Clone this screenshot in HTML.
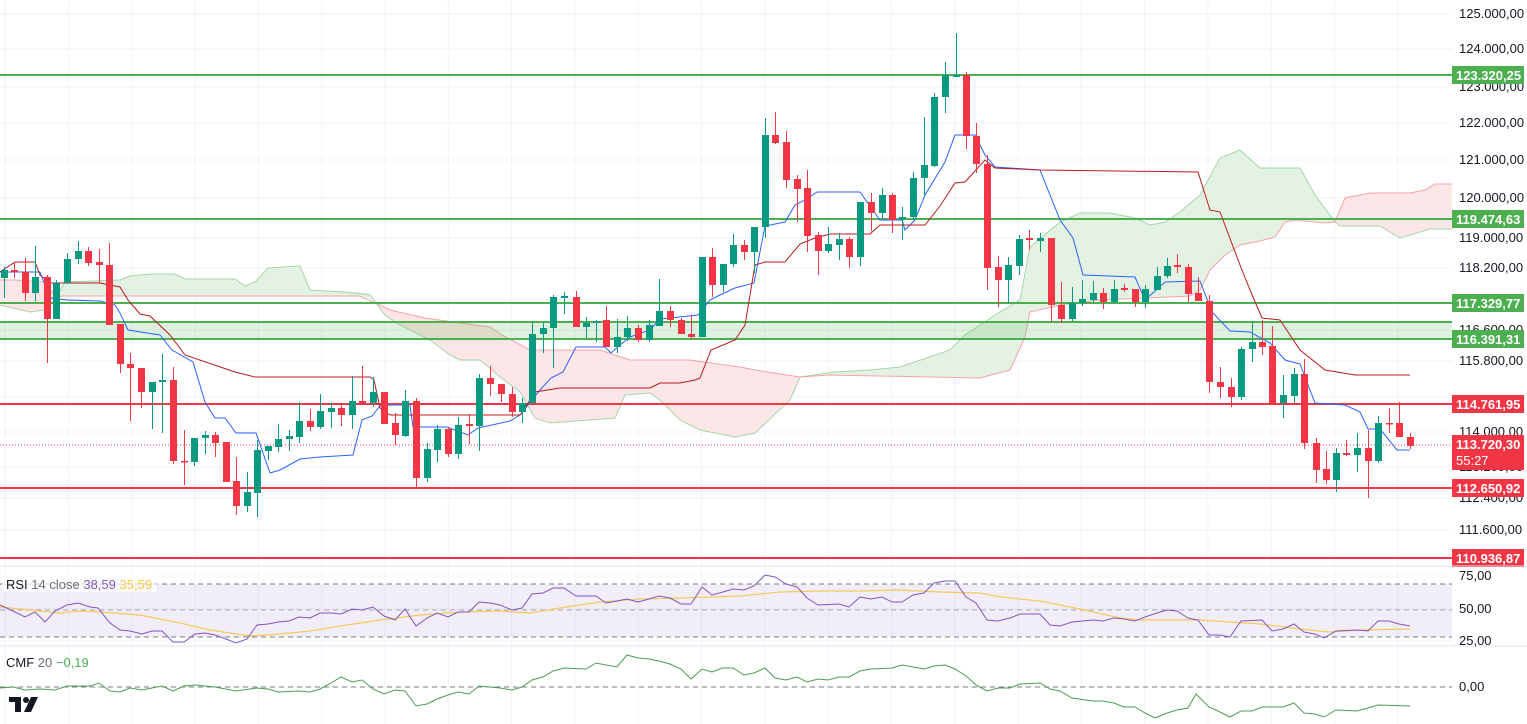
<!DOCTYPE html>
<html><head><meta charset="utf-8"><style>
html,body{margin:0;padding:0;background:#fff;}
svg{display:block;font-family:"Liberation Sans",sans-serif;}
</style></head><body>
<svg id="c" width="1527" height="724" viewBox="0 0 1527 724" xmlns="http://www.w3.org/2000/svg">
<rect width="1527" height="724" fill="#fff"/>
<g id="grid" stroke="#f0f3fa" stroke-width="1"></g>
<polygon fill="#fde6e7" points="0,280 15,280 45,282 55,296 55,300 45,310 30,312 0,305"/>
<polygon fill="#e4f2e4" points="55,296 65,282 120,280 130,276 150,274 175,274 185,279 235,279 245,286 255,282 268,268 300,266 310,290 345,292 370,293 370,298 360,296 65,296 55,300"/>
<polygon fill="#fde6e7" points="370,298 380,305 390,310 425,318 460,323 490,327 502,335 530,350 600,350 630,360 690,360 740,367 755,370 800,377 790,400 755,433 735,437 700,430 680,420 660,400 650,393 625,395 615,418 550,423 535,418 520,392 500,377 480,360 460,360 450,355 430,340 400,325 385,315 370,295"/>
<polygon fill="#e4f2e4" points="800,377 835,372 870,370 900,367 950,350 965,335 995,315 1020,300 1030,247 1060,222 1080,213 1110,213 1135,218 1150,225 1165,222 1180,212 1200,195 1220,158 1240,150 1260,168 1300,168 1315,195 1335,222 1325,223 1295,220 1285,222 1275,237 1260,241 1240,245 1225,255 1210,270 1200,290 1190,296 1100,300 1060,305 1030,312 1025,337 1010,370 980,378 830,375"/>
<polygon fill="#fde6e7" points="1335,222 1345,198 1370,193 1410,193 1425,190 1435,184 1452,184 1452,229 1430,229 1400,238 1380,226 1340,226"/>
<polyline fill="none" stroke="#a5d6a7" stroke-width="1" points="0,305 30,312 45,310 55,300 65,282 120,280 130,276 150,274 175,274 185,279 235,279 245,286 255,282 268,268 300,266 310,290 345,292 370,295 385,315 400,325 430,340 450,355 460,360 480,360 500,377 520,392 535,418 550,423 615,418 625,395 650,393 660,400 680,420 700,430 735,437 755,433 790,400 800,377 835,372 870,370 900,367 950,350 965,335 995,315 1020,300 1030,247 1060,222 1080,213 1110,213 1135,218 1150,225 1165,222 1180,212 1200,195 1220,158 1240,150 1260,168 1300,168 1315,195 1335,222 1340,226 1380,226 1400,238 1430,229 1452,229"/>
<polyline fill="none" stroke="#f5a3a6" stroke-width="1" points="0,280 15,280 45,282 55,296 65,296 360,296 380,305 390,310 425,318 460,323 490,327 502,335 530,350 600,350 630,360 690,360 740,367 755,370 800,377 830,375 980,378 1010,370 1025,337 1030,312 1060,305 1100,300 1190,296 1200,290 1210,270 1225,255 1240,245 1260,241 1275,237 1285,222 1295,220 1325,223 1335,222 1345,198 1370,193 1410,193 1425,190 1435,184 1452,184"/>
<rect x="0" y="322" width="1452" height="17" fill="#4caf50" fill-opacity="0.18"/>
<g stroke-width="2">
<line x1="0" y1="75" x2="1452" y2="75" stroke="#4caf50"/>
<line x1="0" y1="219" x2="1452" y2="219" stroke="#4caf50"/>
<line x1="0" y1="303" x2="1452" y2="303" stroke="#4caf50"/>
<line x1="0" y1="322" x2="1452" y2="322" stroke="#4caf50"/>
<line x1="0" y1="339" x2="1452" y2="339" stroke="#4caf50"/>
<line x1="0" y1="404" x2="1452" y2="404" stroke="#f23645"/>
<line x1="0" y1="488" x2="1452" y2="488" stroke="#f23645"/>
<line x1="0" y1="558" x2="1452" y2="558" stroke="#f23645"/>
</g>
<line x1="0" y1="445" x2="1452" y2="445" stroke="#f23645" stroke-width="1" stroke-dasharray="1,2"/>
<polyline fill="none" stroke="#2962ff" stroke-width="1" points="0,272 40,272 50,298 67,300 100,301 115,305 120,313 128,330 160,335 172,350 193,362 205,402 215,418 225,418 236,433 256,433 270,473 280,470 300,459 320,457 353,455 362,420 372,416 380,406 386,405 410,405 413,427 447,427 468,435 478,428 510,421 520,415 540,390 551,378 563,372 576,347 605,347 611,353 620,345 630,337 650,330 660,319 698,315 710,300 720,295 735,288 754,283 765,226 785,222 795,205 805,200 817,192 860,192 880,220 902,220 905,230 915,220 925,195 945,162 955,135 975,135 985,155 995,167 1040,170 1060,220 1073,238 1083,275 1135,277 1145,300 1165,282 1200,281 1212,312 1230,331 1250,332 1270,343 1285,360 1300,364 1315,403 1345,405 1360,412 1368,429 1380,429 1397,450 1410,450"/>
<polyline fill="none" stroke="#b71c1c" stroke-width="1" points="0,272 15,262 35,262 40,275 50,283 100,283 120,287 128,300 140,314 150,316 170,335 185,355 235,372 255,377 370,377 374,380 380,408 390,415 520,415 525,408 535,392 560,388 650,388 660,383 680,383 695,380 700,378 711,350 735,340 745,325 755,265 765,262 785,262 800,244 815,238 830,234 870,234 880,225 925,225 940,206 955,183 965,182 985,160 995,168 1040,170 1198,172 1210,210 1220,212 1240,265 1250,290 1262,318 1280,320 1300,350 1325,370 1355,375 1410,375"/>
<g id="candles"></g>
<g font-size="13" fill="#131722">
<text x="1459" y="18">125.000,00</text>
<text x="1459" y="53">124.000,00</text>
<text x="1459" y="91">123.000,00</text>
<text x="1459" y="127">122.000,00</text>
<text x="1459" y="164">121.000,00</text>
<text x="1459" y="202">120.000,00</text>
<text x="1459" y="242">119.000,00</text>
<text x="1459" y="272">118.200,00</text>
<text x="1459" y="334">116.600,00</text>
<text x="1459" y="365">115.800,00</text>
<text x="1459" y="436">114.000,00</text>
<text x="1459" y="471">113.200,00</text>
<text x="1459" y="502">112.400,00</text>
<text x="1459" y="534">111.600,00</text>
</g>
<g font-size="13" font-weight="bold" fill="#fff">
<rect x="1452" y="66" width="72" height="18" fill="#4caf50"/><text x="1456" y="80">123.320,25</text>
<rect x="1452" y="210" width="72" height="18" fill="#4caf50"/><text x="1456" y="224">119.474,63</text>
<rect x="1452" y="294" width="72" height="18" fill="#4caf50"/><text x="1456" y="308">117.329,77</text>
<rect x="1452" y="330" width="72" height="18" fill="#4caf50"/><text x="1456" y="344">116.391,31</text>
<rect x="1452" y="395" width="72" height="18" fill="#f23645"/><text x="1456" y="409">114.761,95</text>
<rect x="1452" y="435" width="72" height="35" fill="#f23645"/><text x="1456" y="449">113.720,30</text><text x="1456" y="465" font-weight="normal">55:27</text>
<rect x="1452" y="479" width="72" height="18" fill="#f23645"/><text x="1456" y="493">112.650,92</text>
<rect x="1452" y="549" width="72" height="18" fill="#f23645"/><text x="1456" y="563">110.936,87</text>
</g>
<line x1="0" y1="566" x2="1527" y2="566" stroke="#e0e3eb"/>
<line x1="0" y1="646" x2="1527" y2="646" stroke="#e0e3eb"/>
<rect x="0" y="584" width="1452" height="53" fill="#7e57c2" fill-opacity="0.1"/>
<g stroke="#787b86" stroke-dasharray="5,4" stroke-width="1">
<line x1="0" y1="584" x2="1452" y2="584"/>
<line x1="0" y1="610" x2="1452" y2="610" stroke-opacity="0.6"/>
<line x1="0" y1="637" x2="1452" y2="637"/>
<line x1="0" y1="687" x2="1452" y2="687"/>
</g>
<polyline fill="none" stroke="#f7c85a" stroke-width="1.2" points="0,607 40,611 60,613 80,611 100,612 140,615 180,623 210,630 250,636 280,634 310,631 340,626 380,620 420,615 460,612 500,611 530,613 560,608 600,602 640,599 680,598 740,596 780,592 820,591 860,591 900,590 940,592 980,593 1000,597 1040,601 1080,609 1120,618 1140,620 1200,620 1260,624 1300,629 1330,632 1360,630 1410,629"/>
<polyline fill="none" stroke="#7e57c2" stroke-width="1" points="0,605 13,611 25,617 35,612 45,622 55,611 67,605 78,603 90,607 98,608 110,623 120,630 130,631 142,634 152,631 162,631 173,642 184,642 195,634 205,633 215,635 226,639 236,643 247,639 257,625 268,624 278,622 289,621 299,617 310,618 320,613 331,613 341,614 352,609 362,610 373,607 384,616 395,620 405,609 416,626 427,618 437,613 448,617 458,612 469,612 479,602 490,603 500,605 512,610 522,608 532,594 543,593 553,588 564,588 576,596 596,596 606,603 617,601 627,599 638,602 649,599 659,596 670,598 681,604 691,604 702,587 712,595 723,592 733,589 744,590 754,586 765,575 775,577 786,584 797,587 807,598 818,605 839,604 849,607 860,597 871,599 882,597 892,602 902,602 913,595 924,593 934,583 945,581 955,581 966,597 976,603 987,620 998,621 1010,618 1020,614 1040,614 1050,625 1060,626 1072,622 1093,620 1103,621 1114,618 1124,619 1135,621 1145,617 1157,613 1167,610 1177,611 1188,618 1198,620 1209,635 1220,635 1230,637 1241,621 1262,620 1272,631 1283,629 1294,624 1304,632 1315,634 1324,638 1336,631 1357,630 1368,631 1378,621 1389,621 1399,624 1410,626"/>
<rect x="2" y="572" width="155" height="20" fill="#fff" fill-opacity="0.7"/>
<text x="6" y="589" font-size="13" fill="#131722">RSI <tspan fill="#6a6d78">14 close</tspan> <tspan fill="#7e57c2">38,59</tspan> <tspan fill="#f7c548">35,59</tspan></text>
<polyline fill="none" stroke="#4f9c52" stroke-width="1" points="0,688 13,687 25,690 40,689 55,690 67,686 90,686 99,683 110,691 120,692 130,688 142,690 152,688 162,686 173,691 184,686 195,685 215,687 236,691 257,688 268,689 278,692 299,691 310,692 320,689 331,683 341,677 352,682 362,680 373,689 384,694 395,690 405,691 416,706 427,704 437,699 448,695 458,692 469,694 479,686 500,688 512,690 522,687 532,680 543,677 553,671 564,668 586,669 596,663 606,665 617,667 627,655 638,658 649,659 659,661 670,664 681,669 691,679 702,669 712,672 723,668 733,668 744,675 754,673 765,668 775,678 786,680 797,677 807,682 818,679 828,680 839,677 849,677 860,671 871,669 892,668 902,665 913,667 924,669 934,666 945,665 955,669 966,676 976,685 987,691 998,688 1010,688 1020,684 1040,683 1050,689 1060,691 1072,698 1093,701 1103,701 1114,703 1124,707 1135,707 1145,713 1155,718 1167,713 1177,710 1188,708 1196,694 1209,707 1220,712 1230,717 1241,711 1252,711 1262,707 1283,707 1294,703 1304,713 1315,714 1324,717 1336,710 1357,711 1368,708 1378,705 1410,706"/>
<text x="6" y="667" font-size="13" fill="#131722">CMF <tspan fill="#6a6d78">20</tspan>  <tspan fill="#4caf50">−0,19</tspan></text>
<g font-size="13" fill="#131722">
<text x="1459" y="580">75,00</text>
<text x="1459" y="613">50,00</text>
<text x="1459" y="645">25,00</text>
<text x="1459" y="691">0,00</text>
</g>
<g fill="#131722">
<rect x="9" y="697" width="12" height="5"/>
<rect x="15" y="697" width="6" height="15"/>
<circle cx="26" cy="700" r="3"/>
<polygon points="31,697 38,697 31,712 24,712"/>
</g>
</svg>
<script>
(function(){
var NS="http://www.w3.org/2000/svg";
var g=document.getElementById("grid");
function ln(p,x1,y1,x2,y2){var l=document.createElementNS(NS,"line");l.setAttribute("x1",x1);l.setAttribute("y1",y1);l.setAttribute("x2",x2);l.setAttribute("y2",y2);p.appendChild(l);}
for(var x=5.2;x<1452;x+=63.3){ln(g,x,0,x,566);ln(g,x,566,x,724);}
[14,49,87,123,160,198,238,268,299,330,361,397,432,467,498,530].forEach(function(y){ln(g,0,y,1452,y);});
[576,609,641,687].forEach(function(y){ln(g,0,y,1452,y);});
var d=[[4,270,278,267,298,'g'],[14,270,272,262,278,'r'],[25,272,293,258,301,'r'],[35,277,293,246,301,'g'],[47,277,319,275,363,'r'],[56,283,319,280,319,'g'],[67,259,283,253,283,'g'],[78,251,259,241,264,'g'],[88,251,263,247,266,'r'],[99,262,265,249,283,'r'],[109,265,325,243,325,'r'],[120,324,364,324,373,'r'],[130,364,368,353,421,'r'],[141,368,392,368,408,'r'],[152,382,392,382,429,'g'],[162,380,382,354,433,'g'],[173,380,461,367,464,'r'],[184,461,462,430,485,'r'],[194,438,462,438,466,'g'],[205,435,438,431,454,'g'],[215,435,443,432,457,'r'],[226,442,482,442,482,'r'],[236,481,506,457,515,'r'],[247,492,506,472,512,'g'],[257,450,493,440,517,'g'],[268,446,451,446,460,'g'],[278,439,447,424,452,'g'],[289,436,439,430,451,'g'],[299,421,437,402,443,'g'],[310,421,427,409,431,'r'],[320,411,427,394,429,'g'],[331,408,412,403,428,'g'],[341,408,415,403,426,'r'],[352,401,415,376,429,'g'],[362,401,403,366,403,'r'],[373,392,403,377,407,'g'],[384,392,424,392,424,'r'],[395,423,435,413,445,'r'],[405,401,436,390,437,'g'],[416,401,478,398,487,'r'],[427,449,478,443,482,'g'],[437,429,450,425,462,'g'],[448,429,454,427,457,'r'],[458,425,454,417,459,'g'],[469,424,426,414,444,'r'],[479,378,426,374,451,'g'],[490,378,384,366,396,'r'],[501,384,394,384,402,'r'],[512,394,412,387,417,'r'],[522,403,412,398,423,'g'],[532,334,403,323,403,'g'],[543,328,334,323,353,'g'],[553,297,328,295,368,'g'],[564,296,298,292,314,'g'],[576,297,327,291,327,'r'],[586,323,327,317,338,'g'],[596,321,323,320,342,'g'],[606,320,347,306,347,'r'],[617,337,347,319,353,'g'],[627,328,337,316,341,'g'],[638,328,340,325,342,'r'],[649,325,340,320,342,'g'],[659,311,326,279,326,'g'],[670,311,320,306,327,'r'],[681,320,334,318,334,'r'],[691,334,337,315,339,'r'],[702,257,337,257,337,'g'],[712,257,285,248,297,'r'],[723,264,285,264,292,'g'],[733,245,264,234,267,'g'],[744,245,252,240,260,'r'],[754,227,252,227,273,'g'],[765,135,227,118,238,'g'],[775,135,143,112,144,'r'],[786,142,180,131,188,'r'],[797,179,189,175,222,'r'],[807,188,236,170,252,'r'],[818,235,251,232,275,'r'],[828,244,251,227,253,'g'],[839,239,245,233,260,'g'],[849,239,257,237,268,'r'],[860,202,257,202,266,'g'],[871,202,213,193,231,'r'],[882,195,213,188,218,'g'],[892,195,220,193,233,'r'],[902,217,220,207,240,'g'],[913,178,217,172,219,'g'],[924,165,178,117,195,'g'],[934,97,166,93,167,'g'],[945,75,97,62,113,'g'],[956,75,77,33,77,'g'],[966,75,136,72,149,'r'],[976,136,164,123,173,'r'],[987,164,268,155,290,'r'],[998,267,280,256,307,'r'],[1008,265,280,257,303,'g'],[1019,239,266,235,275,'g'],[1029,238,240,230,250,'r'],[1040,238,241,233,252,'g'],[1051,238,305,238,322,'r'],[1061,305,319,282,323,'r'],[1072,303,319,287,321,'g'],[1082,299,303,280,306,'g'],[1093,293,300,281,303,'g'],[1103,293,302,288,309,'r'],[1114,289,302,280,303,'g'],[1124,288,290,284,292,'r'],[1135,289,302,289,307,'r'],[1145,289,302,285,308,'g'],[1157,276,290,267,290,'g'],[1167,266,276,258,278,'g'],[1177,265,267,254,273,'r'],[1188,267,294,264,302,'r'],[1198,293,301,277,301,'r'],[1209,301,382,295,393,'r'],[1220,382,387,367,398,'r'],[1231,387,397,378,407,'r'],[1241,349,397,347,400,'g'],[1252,342,349,323,362,'g'],[1262,342,347,320,355,'r'],[1272,346,403,326,403,'r'],[1283,395,403,375,418,'g'],[1294,374,396,368,403,'g'],[1304,374,443,359,449,'r'],[1316,443,470,438,483,'r'],[1326,469,480,451,484,'r'],[1336,453,480,448,492,'g'],[1346,453,455,440,456,'r'],[1357,448,455,433,472,'g'],[1368,448,461,430,498,'r'],[1378,423,461,416,463,'g'],[1389,423,424,408,433,'r'],[1399,423,437,402,437,'r'],[1410,437,446,433,449,'r']];
var c=document.getElementById("candles");
d.forEach(function(k){var col=k[5]=='g'?'#089981':'#f23645';
var w=document.createElementNS(NS,"line");w.setAttribute("x1",k[0]+0.5);w.setAttribute("x2",k[0]+0.5);w.setAttribute("y1",k[3]);w.setAttribute("y2",k[4]);w.setAttribute("stroke",col);w.setAttribute("stroke-width","1");c.appendChild(w);
var r=document.createElementNS(NS,"rect");r.setAttribute("x",k[0]-3);r.setAttribute("width",7);r.setAttribute("y",k[1]);r.setAttribute("height",Math.max(1.5,k[2]-k[1]));r.setAttribute("fill",col);c.appendChild(r);});
})();
</script>
</body></html>
